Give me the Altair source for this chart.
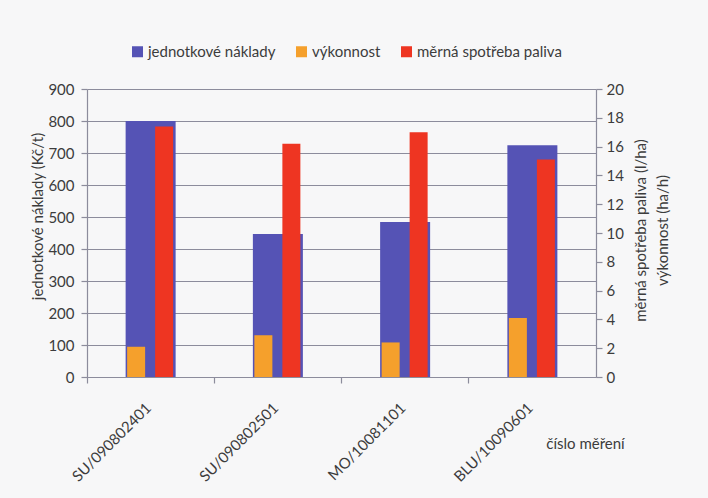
import altair as alt
import pandas as pd

categories = ["SU/090802401", "SU/090802501", "MO/10081101", "BLU/10090601"]
naklady = [800, 447, 484, 724]          # jednotkové náklady (Kč/t)
vykonnost = [2.1, 2.9, 2.4, 4.1]        # výkonnost (ha/h)
spotreba = [17.4, 16.2, 17.0, 15.1]     # měrná spotřeba paliva (l/ha)

series = ["jednotkové náklady", "výkonnost", "měrná spotřeba paliva"]
colors = ["#5553b5", "#f5a02c", "#ee3522"]
left_ticks = list(range(0, 1000, 100))
right_ticks = list(range(0, 22, 2))

df = pd.DataFrame({"cislo": categories, "naklady": naklady,
                   "vykonnost": vykonnost, "spotreba": spotreba})

FONT = "Lato"
TXT = "#3c3c3c"
GRID = "#8c8c9c"

color_scale = alt.Scale(domain=series, range=colors)

x_enc = alt.X("cislo:N", sort=categories,
              scale=alt.Scale(paddingInner=0, paddingOuter=0),
              axis=alt.Axis(title="číslo měření", labelAngle=-45, bandPosition=0,
                            labelOffset=-7, tickSize=6, labelPadding=17,
                            titleX=498, titleY=66, titleAlign="center",
                            titleBaseline="middle", grid=False))

base = alt.Chart(df).encode(x=x_enc)

legend = alt.Legend(title=None, orient="none", direction="horizontal",
                    legendX=43, legendY=-45, symbolType="square", symbolSize=121,
                    symbolStrokeWidth=0, labelFont=FONT, labelFontSize=15,
                    labelColor=TXT, labelOffset=3, columnPadding=18)

right_axis = alt.Axis(orient="right", values=right_ticks, grid=False,
                      title=["měrná spotřeba paliva (l/ha)", "výkonnost (ha/h)"],
                      titleAngle=270, titleX=44, titleY=141, titleAlign="center",
                      titleBaseline="middle", titleLineHeight=22,
                      tickSize=6, labelPadding=4)

blue = base.transform_calculate(serie=f"'{series[0]}'").mark_bar(width=50).encode(
    y=alt.Y("naklady:Q", scale=alt.Scale(domain=[0, 900]),
            axis=alt.Axis(title="jednotkové náklady (Kč/t)", values=left_ticks,
                          grid=True, tickSize=6, labelPadding=7,
                          titleX=-50, titleY=127, titleAlign="center",
                          titleBaseline="middle")),
    color=alt.Color("serie:N", scale=color_scale, legend=legend),
)

orange = base.transform_calculate(serie=f"'{series[1]}'").mark_bar(width=18, xOffset=-14.5).encode(
    y=alt.Y("vykonnost:Q", scale=alt.Scale(domain=[0, 20]), axis=right_axis),
    color=alt.Color("serie:N", scale=color_scale, legend=legend),
)

red = base.transform_calculate(serie=f"'{series[2]}'").mark_bar(width=18, xOffset=13.5).encode(
    y=alt.Y("spotreba:Q", scale=alt.Scale(domain=[0, 20]), axis=right_axis),
    color=alt.Color("serie:N", scale=color_scale, legend=legend),
)

right = alt.layer(orange, red)

chart = alt.layer(blue, right).resolve_scale(y="independent").properties(
    width=509, height=288,
    autosize=alt.AutoSizeParams(type="none"),
    padding={"left": 87, "top": 89, "right": 112, "bottom": 121},
    background="#f7f7f8",
).configure_view(stroke=None).configure_axis(
    labelFont=FONT, labelFontSize=15, labelColor=TXT,
    titleFont=FONT, titleFontSize=15, titleFontWeight="normal", titleColor=TXT,
    domainColor=GRID, tickColor=GRID, gridColor=GRID, gridOpacity=1,
    domainWidth=1.2, tickWidth=1.2,
)

chart.save("out.html", embed_options={"renderer": "svg", "actions": False})
